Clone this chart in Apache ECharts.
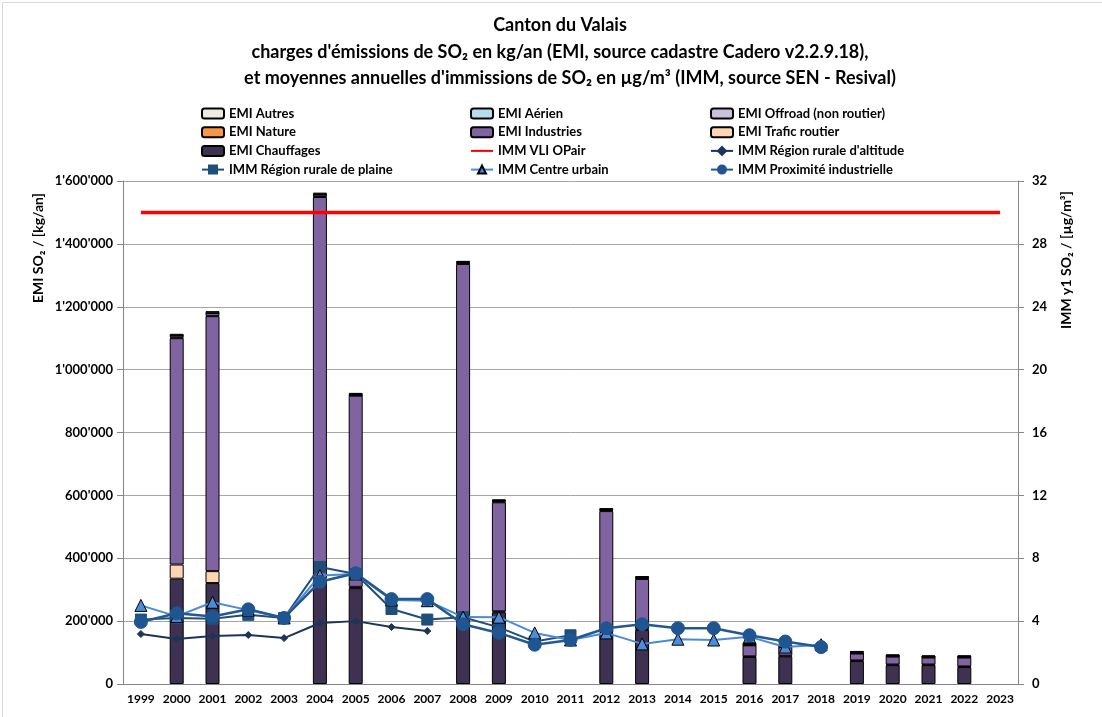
<!DOCTYPE html>
<html><head><meta charset="utf-8">
<script src="https://cdn.jsdelivr.net/npm/echarts@6/dist/echarts.min.js"></script>
<style>html,body{margin:0;padding:0;background:#fff}#c{width:1102px;height:717px}</style>
</head><body><div id="c"></div>
<script>
const years = ['1999','2000','2001','2002','2003','2004','2005','2006','2007','2008','2009','2010','2011','2012','2013','2014','2015','2016','2017','2018','2019','2020','2021','2022','2023'];
const emiChauffages = [null,335000,321000,null,null,330000,305000,null,null,213000,228000,null,null,162000,172000,null,null,86000,88000,null,73000,60000,60000,54000,null];
const emiTrafic     = [null,45000,38000,null,null,5000,4000,null,null,3000,3000,null,null,3000,3000,null,null,2000,2000,null,2000,2000,2000,2000,null];
const emiIndustries = [null,720000,811000,null,null,1214000,608000,null,null,1120000,347000,null,null,385000,159000,null,null,35000,27000,null,22000,25000,22000,28000,null];
const emiNature     = [null,2000,2000,null,null,2000,1000,null,null,2000,2000,null,null,2000,2000,null,null,1000,1000,null,1000,1000,1000,1000,null];
const emiOffroad    = [null,6000,8000,null,null,6000,3000,null,null,3000,3000,null,null,3000,3000,null,null,3000,3000,null,3000,2000,2000,2000,null];
const emiAerien     = [null,1000,1000,null,null,1000,1000,null,null,1000,1000,null,null,1000,1000,null,null,1000,1000,null,1000,1000,1000,1000,null];
const emiAutres     = [null,5000,5000,null,null,5000,4000,null,null,4000,3000,null,null,3000,3000,null,null,3000,3000,null,3000,3000,3000,3000,null];
const immVLI        = [30,30,30,30,30,30,30,30,30,30,30,30,30,30,30,30,30,30,30,30,30,30,30,30,30];
const immAltitude   = [3.18,2.86,3.05,3.12,2.92,3.88,4.0,3.62,3.37,null,null,null,null,null,null,null,null,null,null,null,null,null,null,null,null];
const immPlaine     = [4.1,4.2,4.15,4.4,4.2,7.45,7.0,4.77,4.1,4.25,3.6,2.7,3.1,null,null,null,null,null,null,null,null,null,null,null,null];
const immUrbain     = [5.0,4.3,5.2,4.7,4.2,6.9,7.0,5.35,5.3,4.26,4.25,3.25,2.8,3.25,2.55,2.85,2.8,3.0,2.35,2.5,null,null,null,null,null];
const immProximite  = [3.95,4.5,4.3,4.75,4.2,6.5,7.05,5.4,5.4,3.8,3.25,2.5,2.8,3.55,3.8,3.55,3.55,3.1,2.7,2.35,null,null,null,null,null];
const titleLines = ['Canton du Valais',
  'charges d\'émissions de SO₂ en kg/an (EMI, source cadastre Cadero v2.2.9.18),',
  'et moyennes annuelles d\'immissions de SO₂ en µg/m³ (IMM, source SEN - Resival)'];

const FONT = 'Lato, "Liberation Sans", sans-serif';
const fmt = v => String(v).replace(/\B(?=(\d{3})+(?!\d))/g, "'");
const chart = echarts.init(document.getElementById('c'));

function bar(name, data, color){
  return {name, type:'bar', stack:'emi', data, barWidth:14,
    itemStyle:{color, borderColor:'#000', borderWidth:1}, yAxisIndex:0, z:2};
}
function line(name, data, color, symbol, size, fill, lw, border){
  return {name, type:'line', data, yAxisIndex:1, symbol, symbolSize:size,
    lineStyle:{color, width:lw}, itemStyle:{color:fill, borderColor:border||fill, borderWidth:1},
    connectNulls:false, z:5};
}
const legendText = {fontFamily:FONT, fontWeight:'bold', fontSize:13, color:'#000'};
const legendCommon = {orient:'vertical', top:102, itemGap:5.7, itemWidth:22, itemHeight:10, textStyle:legendText, selectedMode:false};

chart.setOption({
  animation:false,
  backgroundColor:'#fff',
  legend:[
    Object.assign({left:196, data:['EMI Autres','EMI Nature','EMI Chauffages','IMM Région rurale de plaine']}, legendCommon),
    Object.assign({left:465, data:['EMI Aérien','EMI Industries',{name:'IMM VLI OPair', itemStyle:{opacity:0}},'IMM Centre urbain']}, legendCommon),
    Object.assign({left:705, data:['EMI Offroad (non routier)','EMI Trafic routier','IMM Région rurale d\'altitude','IMM Proximité industrielle']}, legendCommon)
  ],
  grid:{left:123, right:84, top:181, bottom:33, containLabel:false},
  xAxis:{type:'category', data:years, boundaryGap:true,
    axisLine:{lineStyle:{color:'#868686'}}, axisTick:{lineStyle:{color:'#868686'}, length:5},
    axisLabel:{fontFamily:FONT, fontWeight:'bold', fontSize:12, color:'#000', margin:9, interval:0}},
  yAxis:[
    {type:'value', min:0, max:1600000, interval:200000,
      axisLine:{show:true, lineStyle:{color:'#868686'}}, axisTick:{show:true, lineStyle:{color:'#868686'}, length:6},
      splitLine:{lineStyle:{color:'#A6A6A6', width:1}},
      axisLabel:{formatter:fmt, fontFamily:FONT, fontWeight:'bold', fontSize:13, color:'#000', margin:10}},
    {type:'value', min:0, max:32, interval:4, position:'right',
      axisLine:{show:true, lineStyle:{color:'#868686'}}, axisTick:{show:true, lineStyle:{color:'#868686'}, length:6},
      splitLine:{show:false},
      axisLabel:{fontFamily:FONT, fontWeight:'bold', fontSize:13, color:'#000', margin:14}}
  ],
  series:[
    bar('EMI Chauffages', emiChauffages, '#3F3151'),
    bar('EMI Trafic routier', emiTrafic, '#FCD5B4'),
    bar('EMI Industries', emiIndustries, '#8064A2'),
    bar('EMI Nature', emiNature, '#F79646'),
    bar('EMI Offroad (non routier)', emiOffroad, '#CCC0DA'),
    bar('EMI Aérien', emiAerien, '#B7DEE8'),
    bar('EMI Autres', emiAutres, '#EEECE1'),
    {name:'IMM VLI OPair', type:'line', data:immVLI, yAxisIndex:1, symbol:'none', lineStyle:{color:'#FF0000', width:3.5}, itemStyle:{color:'#FF0000'}, z:4},
    line('IMM Région rurale d\'altitude', immAltitude, '#1B3457', 'diamond', 7, '#1B3457', 2),
    line('IMM Région rurale de plaine', immPlaine, '#1F4E79', 'rect', 11, '#1F4E79', 2),
    line('IMM Centre urbain', immUrbain, '#4A8AD6', 'triangle', 12, '#4A8CD8', 2, '#000'),
    line('IMM Proximité industrielle', immProximite, '#245891', 'circle', 13, '#1F5591', 2.5)
  ],
  graphic:[
    {type:'rect', left:0, top:0, shape:{width:1101, height:716}, style:{fill:'none', stroke:'#D9D9D9', lineWidth:1}, silent:true},
    {type:'text', x:560, y:25, style:{text:titleLines[0], font:'bold 18px '+FONT, fill:'#000', align:'center', verticalAlign:'middle'}},
    {type:'text', x:560, y:52, style:{text:titleLines[1], font:'bold 18px '+FONT, fill:'#000', align:'center', verticalAlign:'middle'}},
    {type:'text', x:570, y:78, style:{text:titleLines[2], font:'bold 18px '+FONT, fill:'#000', align:'center', verticalAlign:'middle'}},
    {type:'text', x:38, y:248, rotation:Math.PI/2, style:{text:'EMI SO₂ / [kg/an]', font:'bold 14px '+FONT, fill:'#000', align:'center', verticalAlign:'middle'}},
    {type:'text', x:1066, y:260, rotation:Math.PI/2, style:{text:'IMM y1 SO₂ / [µg/m³]', font:'bold 14px '+FONT, fill:'#000', align:'center', verticalAlign:'middle'}}
  ]
});
</script></body></html>
